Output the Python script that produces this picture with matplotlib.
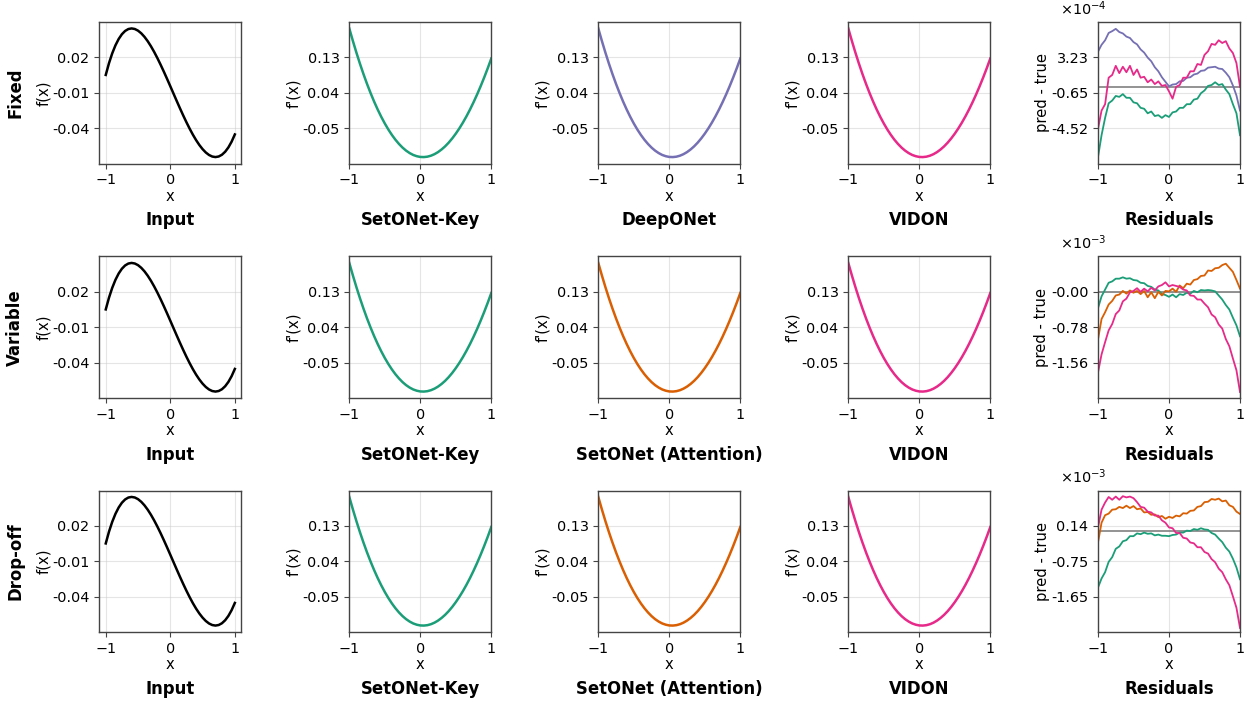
import numpy as np
import matplotlib.pyplot as plt
from matplotlib.ticker import FuncFormatter

# smooth curves, read at x = -1.0 ... 1.0 step 0.05
x_smooth = np.linspace(-1, 1, 41)
f_input = [0.00700, 0.01655, 0.02455, 0.03110, 0.03627, 0.04016, 0.04284, 0.04439, 0.04489,
           0.04443, 0.04308, 0.04092, 0.03803, 0.03449, 0.03037, 0.02575, 0.02071, 0.01532,
           0.00965, 0.00379, -0.00220, -0.00825, -0.01428, -0.02022, -0.02600, -0.03156,
           -0.03681, -0.04170, -0.04615, -0.05009, -0.05346, -0.05620, -0.05823, -0.05950,
           -0.05993, -0.05946, -0.05804, -0.05559, -0.05206, -0.04738, -0.04149]
df_pred = [0.2067, 0.1751, 0.1451, 0.1168, 0.0902, 0.0652, 0.0419, 0.0201, 0.0000, -0.0185,
           -0.0355, -0.0509, -0.0647, -0.0770, -0.0877, -0.0970, -0.1047, -0.1109, -0.1157,
           -0.1189, -0.1208, -0.1211, -0.1201, -0.1176, -0.1137, -0.1084, -0.1017, -0.0937,
           -0.0843, -0.0735, -0.0614, -0.0480, -0.0333, -0.0173, 0.0000, 0.0186, 0.0384,
           0.0595, 0.0818, 0.1053, 0.1301]

# residuals, read at x = -1.0 ... 1.0 step 0.05
x_res = np.linspace(-1, 1, 41)
# Fixed (x1e-4)
res_fixed_key = [-7.7, -5.3, -3.4, -1.8, -1.5, -1.0, -1.1, -0.8, -1.2, -1.2, -1.7, -1.8, -2.3,
                 -2.4, -2.9, -2.7, -3.2, -3.1, -3.4, -3.1, -3.3, -2.8, -2.7, -2.3, -2.3, -1.9,
                 -1.9, -1.4, -1.3, -0.7, -0.4, 0.1, 0.2, 0.5, 0.2, 0.3, -0.3, -0.8, -1.9, -2.9,
                 -5.3]
res_fixed_deeponet = [3.85, 4.6, 5.1, 5.9, 6.1, 6.35, 6.0, 5.85, 5.5, 5.35, 4.9, 4.65, 4.1, 3.75,
                      3.2, 2.8, 2.15, 1.7, 1.05, 0.55, 0.05, 0.25, 0.3, 0.6, 0.65, 1.0, 1.05,
                      1.35, 1.45, 1.75, 1.8, 2.1, 2.15, 2.2, 2.0, 1.95, 1.55, 1.05, 0.15, -0.95,
                      -2.6]
res_fixed_vidon = [-4.6, -2.6, -1.9, 1.0, 1.3, 2.3, 1.5, 2.2, 1.6, 2.3, 1.3, 1.9, 1.0, 1.1, 0.5,
                   0.8, 0.3, 0.6, 0.1, 0.2, -0.5, -1.3, 0.0, 0.2, 1.0, 1.0, 1.7, 1.7, 2.5, 2.4,
                   3.5, 3.9, 4.7, 4.6, 5.1, 4.8, 5.0, 4.2, 3.7, 2.6, 0.0]
# Variable (x1e-3)
res_var_key = [-0.36, -0.10, 0.05, 0.20, 0.23, 0.29, 0.29, 0.32, 0.29, 0.30, 0.26, 0.25, 0.20,
               0.19, 0.13, 0.11, 0.05, 0.03, -0.05, -0.07, -0.11, -0.06, -0.12, -0.05, -0.07,
               -0.02, -0.04, 0.02, -0.01, 0.04, 0.03, 0.04, 0.03, 0.01, -0.08, -0.17, -0.29,
               -0.39, -0.57, -0.74, -0.98]
res_var_att = [-1.05, -0.60, -0.45, -0.28, -0.20, -0.08, -0.06, 0.02, -0.04, 0.03, -0.02, 0.02,
               -0.05, 0.02, -0.12, -0.01, -0.14, 0.00, -0.08, 0.02, 0.01, 0.07, 0.00, 0.14,
               0.08, 0.18, 0.16, 0.26, 0.28, 0.35, 0.36, 0.47, 0.46, 0.52, 0.53, 0.59, 0.62,
               0.53, 0.44, 0.26, 0.07]
res_var_vidon = [-1.78, -1.38, -1.11, -0.85, -0.71, -0.49, -0.41, -0.21, -0.15, -0.01, 0.02,
                 0.08, 0.00, 0.07, 0.01, 0.09, 0.03, 0.12, 0.15, 0.21, 0.12, 0.15, 0.13, 0.11,
                 0.05, 0.03, -0.08, -0.09, -0.17, -0.17, -0.26, -0.34, -0.50, -0.56, -0.72,
                 -0.81, -1.04, -1.20, -1.47, -1.73, -2.21]
# Drop-off (x1e-3)
res_drop_key = [-1.42, -1.19, -1.03, -0.77, -0.65, -0.44, -0.38, -0.25, -0.22, -0.12, -0.12,
                -0.05, -0.07, -0.03, -0.06, -0.05, -0.10, -0.08, -0.11, -0.11, -0.12, -0.09,
                -0.08, -0.03, -0.03, 0.02, 0.01, 0.06, 0.04, 0.08, 0.05, 0.04, -0.04, -0.08,
                -0.18, -0.27, -0.41, -0.51, -0.69, -0.91, -1.21]
res_drop_att = [-0.28, 0.22, 0.41, 0.45, 0.55, 0.56, 0.62, 0.59, 0.65, 0.59, 0.64, 0.56, 0.58,
                0.48, 0.49, 0.42, 0.43, 0.36, 0.39, 0.32, 0.37, 0.34, 0.40, 0.38, 0.46, 0.45,
                0.52, 0.53, 0.62, 0.64, 0.74, 0.75, 0.82, 0.80, 0.83, 0.76, 0.78, 0.66, 0.62,
                0.50, 0.44]
res_drop_vidon = [0.10, 0.55, 0.73, 0.87, 0.80, 0.88, 0.80, 0.89, 0.86, 0.88, 0.84, 0.74, 0.62,
                  0.60, 0.50, 0.48, 0.40, 0.40, 0.28, 0.22, 0.10, 0.08, -0.04, -0.04, -0.16,
                  -0.18, -0.28, -0.30, -0.40, -0.40, -0.52, -0.56, -0.70, -0.78, -0.94, -1.03,
                  -1.21, -1.36, -1.64, -1.93, -2.44]

row_names = ['Fixed', 'Variable', 'Drop-off']
row_models = [['SetONet-Key', 'DeepONet', 'VIDON'],
              ['SetONet-Key', 'SetONet (Attention)', 'VIDON'],
              ['SetONet-Key', 'SetONet (Attention)', 'VIDON']]
row_res = [[res_fixed_key, res_fixed_deeponet, res_fixed_vidon],
           [res_var_key, res_var_att, res_var_vidon],
           [res_drop_key, res_drop_att, res_drop_vidon]]
res_scale = [1e-4, 1e-3, 1e-3]
res_exp = [-4, -3, -3]
res_ylim = [(-8.396e-4, 7.100e-4), (-2.341e-3, 0.779e-3), (-2.542e-3, 1.034e-3)]

colors = {'SetONet-Key': '#1b9e77', 'SetONet (Attention)': '#d95f02',
          'DeepONet': '#7570b3', 'VIDON': '#e7298a'}

W, H = 1250, 702
fig = plt.figure(figsize=(W / 100, H / 100), dpi=100)

lefts = [99.3, 349.3, 598.3, 848.3, 1098.0]
tops = [22.0, 256.5, 490.5]
aw, ah = 142.0, 141.5
edge = '#444444'
tfs, lfs, bfs = 10.4, 10.6, 11.9


def style(ax):
    for s in ax.spines.values():
        s.set_color(edge)
        s.set_linewidth(1.0)
    ax.tick_params(labelsize=tfs, colors=edge, labelcolor='black')
    ax.grid(True, color='#cccccc', alpha=0.5, linewidth=0.8)
    ax.set_axisbelow(True)
    ax.set_xticks([-1, 0, 1])
    ax.set_xlabel('x', fontsize=lfs, labelpad=1)


def quarter_ticks(ax, fmt):
    lo, hi = ax.get_ylim()
    ax.set_yticks(np.linspace(lo, hi, 5)[1:4])
    ax.set_ylim(lo, hi)
    ax.yaxis.set_major_formatter(FuncFormatter(fmt))


for r in range(3):
    axs = []
    for c in range(5):
        ax = fig.add_axes([lefts[c] / W, 1 - (tops[r] + ah) / H, aw / W, ah / H])
        style(ax)
        axs.append(ax)

    # input
    ax = axs[0]
    ax.plot(x_smooth, f_input, color='black', lw=1.8)
    ax.set_ylabel('f(x)', fontsize=lfs, labelpad=1)
    quarter_ticks(ax, lambda v, p: '%.2f' % v)
    ax.text(0.5, -0.40, 'Input', transform=ax.transAxes, ha='center', va='center',
            fontsize=bfs, fontweight='bold')
    fig.text(15 / W, 1 - (tops[r] + ah / 2) / H, row_names[r], rotation=90,
             ha='center', va='center', fontsize=bfs, fontweight='bold')

    # model derivatives
    for k, name in enumerate(row_models[r]):
        ax = axs[k + 1]
        ax.plot(x_smooth, df_pred, color=colors[name], lw=1.8)
        ax.set_xlim(-1, 1)
        ax.set_ylabel("f'(x)", fontsize=lfs, labelpad=1)
        quarter_ticks(ax, lambda v, p: '%.2f' % v)
        ax.text(0.5, -0.40, name, transform=ax.transAxes, ha='center', va='center',
                fontsize=bfs, fontweight='bold')

    # residuals
    ax = axs[4]
    ax.axhline(0, color='gray', lw=1.2, zorder=1)
    for name, res in zip(row_models[r], row_res[r]):
        ax.plot(x_res, np.array(res) * res_scale[r], color=colors[name], lw=1.3)
    ax.set_xlim(-1, 1)
    ax.set_ylim(*res_ylim[r])
    sc = res_scale[r]
    quarter_ticks(ax, lambda v, p, sc=sc: '%.2f' % (v / sc))
    ax.set_ylabel('pred - true', fontsize=lfs, labelpad=1)
    ax.text(-0.27, 1.097, r'$\times10^{%d}$' % res_exp[r], transform=ax.transAxes,
            ha='left', va='center', fontsize=tfs)
    ax.text(0.5, -0.40, 'Residuals', transform=ax.transAxes, ha='center', va='center',
            fontsize=bfs, fontweight='bold')

fig.savefig('out.png', dpi=100)
